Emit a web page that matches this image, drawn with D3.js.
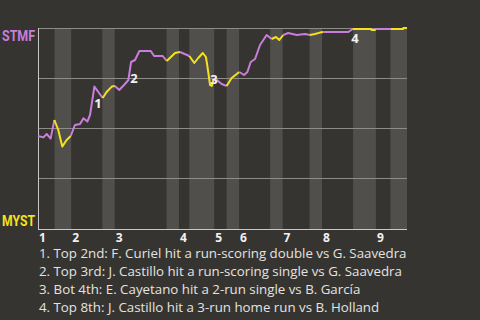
<!DOCTYPE html>
<html>
<head>
<meta charset="utf-8">
<script src="https://cdn.jsdelivr.net/npm/d3@7"></script>
<style>
  body { margin: 0; background: #363430; }
  svg { display: block; font-family: "Open Sans", "Noto Sans", sans-serif; }
</style>
</head>
<body>
<svg width="480" height="320"></svg>
<script>
// event index along the game and STMF win probability
var events = [0, 2.6, 4.2, 6.1, 7.9, 9.8, 11.7, 13.8, 15.8, 17.8, 20.3, 21.9, 23.8, 25.1, 27.2, 29.1, 31.2, 33.1, 35.6, 37.1,
  39.2, 41.5, 43.6, 44.9, 46.8, 48.9, 54.4, 56, 60.2, 62.1, 66.1, 68.5, 73, 75.4, 77.3, 79.5, 81, 81.7, 83, 83.8, 84.6,
  85.7, 88.6, 91, 93.4, 97.1, 99.4, 101, 102.6, 104.7, 107.1, 110.3, 112.7, 114.8, 116.4, 118.3, 120.7, 124.8, 128.8,
  131.2, 133.6, 136, 137.6, 149.7, 151.8, 152.9, 160.6, 161, 162.6, 162.9, 170.3, 176.1, 176.2, 178]
var winProb = [0.46, 0.453, 0.47, 0.447, 0.54, 0.49, 0.407, 0.44, 0.46, 0.515, 0.52, 0.549, 0.532, 0.565, 0.707, 0.68, 0.65, 0.68, 0.707, 0.71,
  0.69, 0.715, 0.74, 0.83, 0.84, 0.885, 0.885, 0.86, 0.86, 0.835, 0.875, 0.88, 0.86, 0.825, 0.85, 0.875, 0.855, 0.81, 0.715, 0.71, 0.74,
  0.745, 0.72, 0.71, 0.75, 0.78, 0.765, 0.78, 0.83, 0.845, 0.915, 0.965, 0.945, 0.955, 0.94, 0.965, 0.975, 0.965, 0.97,
  0.965, 0.97, 0.977, 0.98, 0.98, 0.995, 0.995, 0.995, 0.99, 0.99, 0.995, 0.995, 0.995, 1, 1]

// event index where each half inning starts (top 1, bot 1, top 2, ...) and the end of the game
var halfStarts = [0, 8, 16, 31, 37, 62, 68, 73, 85, 91, 97, 112, 118, 131, 137, 152, 163, 170, 178]
var innings = ["1", "2", "3", "4", "5", "6", "7", "8", "9"]

var teamTop = "STMF"
var teamBottom = "MYST"

var notes = [
  {label: "1", at: 28.9, wp: 0.6},
  {label: "2", at: 46.3, wp: 0.725},
  {label: "3", at: 84.9, wp: 0.72},
  {label: "4", at: 152.9, wp: 0.925}
]
var noteText = [
  "1. Top 2nd: F. Curiel hit a run-scoring double vs G. Saavedra",
  "2. Top 3rd: J. Castillo hit a run-scoring single vs G. Saavedra",
  "3. Bot 4th: E. Cayetano hit a 2-run single vs B. García",
  "4. Top 8th: J. Castillo hit a 3-run home run vs B. Holland"
]

var purple = "#c97ddc"
var yellow = "#f4e21e"

var svg = d3.select("svg")
var plotLeft = 38, plotRight = 407, plotTop = 28, plotBottom = 228

var x = d3.scaleLinear().domain([0, d3.max(halfStarts)]).range([plotLeft, plotRight])
var y = d3.scaleLinear().domain([0, 1]).range([plotBottom, plotTop])

// bottom half innings shading
var bands = d3.range(1, halfStarts.length - 1, 2)
svg.append("g")
  .selectAll("rect")
  .data(bands)
  .enter()
  .append("rect")
  .attr("x", i => x(halfStarts[i]))
  .attr("width", i => x(halfStarts[i + 1]) - x(halfStarts[i]))
  .attr("y", plotTop)
  .attr("height", plotBottom + 2 - plotTop)
  .attr("fill", "#504f4c")

// grid lines
svg.append("g")
  .selectAll("line")
  .data([0.25, 0.5, 0.75, 1])
  .enter()
  .append("line")
  .attr("x1", plotLeft)
  .attr("x2", plotRight)
  .attr("y1", d => Math.round(y(d)) + 0.5)
  .attr("y2", d => Math.round(y(d)) + 0.5)
  .attr("stroke", "#8e8c89")
  .attr("stroke-width", 1)

// axes
svg.append("line")
  .attr("x1", plotLeft + 0.5).attr("x2", plotLeft + 0.5)
  .attr("y1", plotTop).attr("y2", plotBottom + 2)
  .attr("stroke", "#c9c8c6")
svg.append("line")
  .attr("x1", plotLeft).attr("x2", plotRight)
  .attr("y1", plotBottom + 1.5).attr("y2", plotBottom + 1.5)
  .attr("stroke", "#c9c8c6")

// win probability line, coloured by the half inning
function half(u) {
  return d3.bisectRight(halfStarts, u) - 1
}
var pts = events.map((e, i) => [e, winProb[i]])
var runs = []
for (var i = 1; i < pts.length; i++) {
  var c = half((pts[i - 1][0] + pts[i][0]) / 2) % 2 === 0 ? purple : yellow
  if (runs.length && runs[runs.length - 1].color === c) {
    runs[runs.length - 1].pts.push(pts[i])
  } else {
    runs.push({color: c, pts: [pts[i - 1], pts[i]]})
  }
}
var line = d3.line().x(d => x(d[0])).y(d => y(d[1]))
svg.append("g")
  .selectAll("path")
  .data(runs)
  .enter()
  .append("path")
  .attr("d", d => line(d.pts))
  .attr("fill", "none")
  .attr("stroke", d => d.color)
  .attr("stroke-width", 2)
  .attr("stroke-linejoin", "round")

// team names
svg.append("text")
  .attr("x", 2).attr("y", y(1) + 12.5)
  .attr("fill", purple)
  .attr("font-family", "Roboto, sans-serif")
  .attr("font-weight", "bold")
  .attr("font-size", 15)
  .attr("textLength", 33)
  .attr("lengthAdjust", "spacingAndGlyphs")
  .text(teamTop)
svg.append("text")
  .attr("x", 2).attr("y", y(0) - 2)
  .attr("fill", yellow)
  .attr("font-family", "Roboto, sans-serif")
  .attr("font-weight", "bold")
  .attr("font-size", 15)
  .attr("textLength", 33)
  .attr("lengthAdjust", "spacingAndGlyphs")
  .text(teamBottom)

// inning labels
svg.append("g")
  .selectAll("text")
  .data(innings)
  .enter()
  .append("text")
  .attr("x", (d, i) => x(halfStarts[i * 2]) + 1)
  .attr("y", 242)
  .attr("fill", "#f2f2f2")
  .attr("font-weight", "bold")
  .attr("font-size", 12)
  .text(d => d)

// note markers
svg.append("g")
  .selectAll("text")
  .data(notes)
  .enter()
  .append("text")
  .attr("x", d => x(d.at))
  .attr("y", d => y(d.wp))
  .attr("text-anchor", "middle")
  .attr("fill", "#f2f2f2")
  .attr("font-weight", "bold")
  .attr("font-size", 13)
  .text(d => d.label)

// note descriptions
svg.append("g")
  .selectAll("text")
  .data(noteText)
  .enter()
  .append("text")
  .attr("x", 39)
  .attr("y", (d, i) => 258 + i * 18)
  .attr("fill", "#e4e3e1")
  .attr("font-size", 13.3)
  .text(d => d)
</script>
</body>
</html>
